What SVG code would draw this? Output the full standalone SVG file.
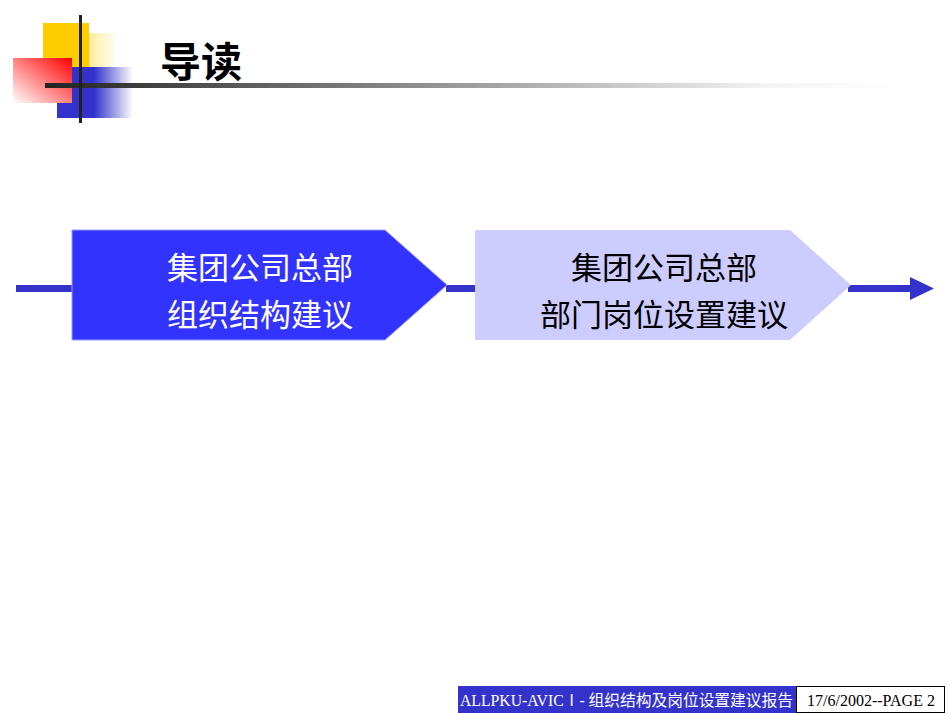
<svg xmlns="http://www.w3.org/2000/svg" width="950" height="713" viewBox="0 0 950 713">
<defs>
<style>
.cn{font-family:"Liberation Sans","Noto Sans CJK SC",sans-serif;}
.lbl{font-size:31px;text-anchor:middle;}
.ft{font-family:"Liberation Serif","Noto Sans CJK SC",serif;font-size:16px;}
.flow{fill:#3333cc;}
</style>
<linearGradient id="gy" x1="0" y1="0" x2="1" y2="0"><stop offset="0" stop-color="#ffcc00"/><stop offset="1" stop-color="#ffffff"/></linearGradient>
<linearGradient id="gr" x1="1" y1="0" x2="0" y2="1"><stop offset="0" stop-color="#ff0000"/><stop offset="1" stop-color="#ffffff"/></linearGradient>
<linearGradient id="gb" x1="0" y1="0" x2="1" y2="0"><stop offset="0" stop-color="#3333cc"/><stop offset="1" stop-color="#ffffff"/></linearGradient>
<linearGradient id="gl" x1="0" y1="0" x2="1" y2="0"><stop offset="0" stop-color="#222222"/><stop offset="0.85" stop-color="#f4f4f4"/><stop offset="1" stop-color="#ffffff"/></linearGradient>
</defs>
<rect width="950" height="713" fill="#ffffff"/>
<g id="logo">
<rect x="43" y="33" width="75" height="37" fill="url(#gy)"/>
<rect x="43" y="23" width="46" height="47" fill="#ffcc00"/>
<rect x="57" y="67" width="43" height="51" fill="#3333cc"/>
<rect x="94" y="67" width="39" height="51" fill="url(#gb)"/>
<rect x="13" y="58" width="59" height="45" fill="url(#gr)"/>
<rect x="45" y="83" width="850" height="5" fill="url(#gl)"/>
<rect x="79" y="15" width="3" height="108" fill="#222222"/>
</g>
<g id="title"><text x="160" y="77" class="cn" font-size="41" font-weight="bold" fill="#000000">导读</text></g>
<g id="connectors">
<rect x="16" y="285" width="57" height="7" class="flow"/>
<rect x="446" y="285" width="30" height="7" class="flow"/>
<rect x="848" y="285" width="64" height="7" class="flow"/>
<polygon points="910,277 934,288.5 910,300" class="flow"/>
</g>
<g id="node1">
<polygon points="72,230 385,230 447,285 385,340 72,340" fill="#3333ff" stroke="#9999ff" stroke-width="1"/>
<text x="260" y="279" class="cn lbl" fill="#ffffff">集团公司总部</text>
<text x="260" y="326" class="cn lbl" fill="#ffffff">组织结构建议</text>
</g>
<g id="node2">
<polygon points="475,230 790,230 851,285 790,340 475,340" fill="#ccccff"/>
<text x="664" y="279" class="cn lbl" fill="#000000">集团公司总部</text>
<text x="664" y="326" class="cn lbl" fill="#000000">部门岗位设置建议</text>
</g>
<g id="footer">
<rect x="458" y="686" width="338" height="27" fill="#3333cc"/>
<text x="460" y="706" class="ft" fill="#ffffff" textLength="333" lengthAdjust="spacingAndGlyphs">ALLPKU-AVICⅠ- 组织结构及岗位设置建议报告</text>
<rect x="796.5" y="686.5" width="148" height="26" fill="#ffffff" stroke="#000000" stroke-width="1"/>
<text x="871" y="706" class="ft" fill="#000000" text-anchor="middle">17/6/2002--PAGE 2</text>
</g>
</svg>
